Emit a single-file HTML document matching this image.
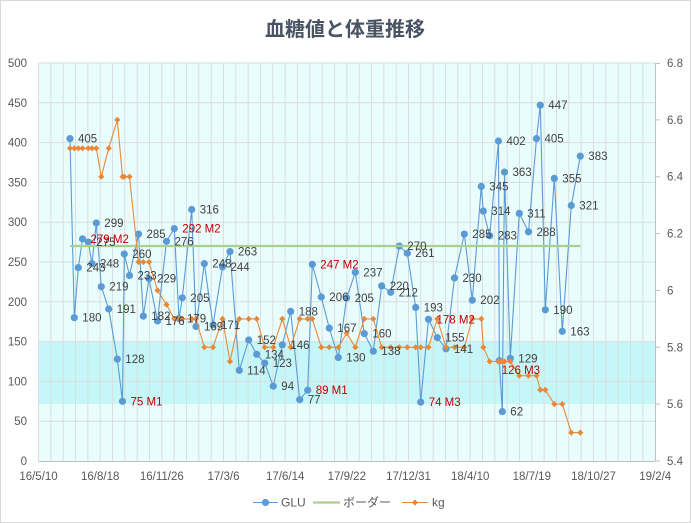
<!DOCTYPE html>
<html><head><meta charset="utf-8"><style>
html,body{margin:0;padding:0;background:#fff;}
svg{display:block;}
text{font-family:"Liberation Sans","Noto Sans CJK JP",sans-serif;}
</style></head><body>
<svg width="691" height="523" viewBox="0 0 691 523" xmlns="http://www.w3.org/2000/svg">
<defs>
<marker id="mc" markerUnits="userSpaceOnUse" markerWidth="10" markerHeight="10" refX="5" refY="5" viewBox="0 0 10 10"><circle cx="5" cy="5" r="3.6" fill="#5b9bd5"/></marker>
<marker id="md" markerUnits="userSpaceOnUse" markerWidth="10" markerHeight="10" refX="5" refY="5" viewBox="0 0 10 10"><path d="M5 1.9L8.1 5L5 8.1L1.9 5Z" fill="#e8893a"/></marker>
</defs>
<rect x="0.5" y="0.5" width="690" height="522" fill="#fff" stroke="#d9d9d9"/>
<text x="345" y="36" text-anchor="middle" font-size="20" font-weight="bold" fill="#4a5363" style="font-family:'Noto Sans CJK JP',sans-serif">血糖値と体重推移</text>
<!-- plot area -->
<rect x="38.5" y="63" width="616.5" height="398" fill="#e9fdfd"/>
<rect x="38.5" y="341.6" width="616.5" height="62.4" fill="#c6f7f8"/>
<path fill="none" stroke="#d9dede" stroke-width="1" d="M38.5 102.8H655M38.5 142.6H655M38.5 182.4H655M38.5 222.2H655M38.5 262H655M38.5 301.8H655M38.5 341.6H655M38.5 381.4H655M38.5 421.2H655M38.5 63H655
M38.5 63V461M50.83 63V461M63.17 63V461M75.5 63V461M87.83 63V461M100.17 63V461M112.5 63V461M124.83 63V461M137.17 63V461M149.5 63V461M161.83 63V461M174.17 63V461M186.5 63V461M198.83 63V461M211.17 63V461M223.5 63V461M235.83 63V461M248.17 63V461M260.5 63V461M272.83 63V461M285.17 63V461M297.5 63V461M309.83 63V461M322.17 63V461M334.5 63V461M346.83 63V461M359.17 63V461M371.5 63V461M383.83 63V461M396.17 63V461M408.5 63V461M420.83 63V461M433.17 63V461M445.5 63V461M457.83 63V461M470.17 63V461M482.5 63V461M494.83 63V461M507.17 63V461M519.5 63V461M531.83 63V461M544.17 63V461M556.5 63V461M568.83 63V461M581.17 63V461M593.5 63V461M605.83 63V461M618.17 63V461M630.5 63V461M642.83 63V461"/>
<path fill="none" stroke="#bfbfbf" stroke-width="1" d="M38.5 461.5H655M655.5 63V461.5M655.5 63.5H660M655.5 119.9H660M655.5 176.7H660M655.5 233.6H660M655.5 290.4H660M655.5 347.3H660M655.5 404.1H660M655.5 461H660"/>
<!-- GLU -->
<polyline fill="none" stroke="#5b9bd5" stroke-width="1.1" stroke-linejoin="round" marker-start="url(#mc)" marker-mid="url(#mc)" marker-end="url(#mc)" points="70,138.6 74.3,317.7 78.3,267.6 82.5,238.9 88.3,242.1 92,263.6 96.3,223 101.3,286.7 108.7,309 117.3,359.1 122.5,401.3 124.3,254 129.5,275.5 138.5,234.1 143.3,316.1 149,278.7 157.5,320.9 166.5,241.3 174.3,228.6 179,318.5 182.3,297.8 191.7,209.5 196,326.5 204.3,263.6 213,324.9 222.5,266.8 230,251.6 239.3,370.3 248.7,340 256.7,354.3 264.7,363.1 273.3,386.2 282.3,344.8 290.7,311.4 299.7,399.7 307.7,390.2 312.3,264.4 321.3,297 329.3,328.1 338.3,357.5 346.7,297.8 355.3,272.3 364.3,333.6 373.3,351.2 381.7,285.9 390.7,292.3 399.3,246.1 407.3,253.2 415.7,307.4 420.7,402.1 428.5,319.3 437.3,337.6 446,348.8 454.5,277.9 464.3,234.1 472.3,300.2 481.3,186.4 483.3,211.1 489.7,235.7 498.5,141 499.3,360.7 502.3,411.6 504.5,172.1 510.3,358.3 519.3,213.4 528.5,231.8 536.5,138.6 540.3,105.2 545.3,309.8 554.3,178.4 562.3,331.3 571.3,205.5 580.3,156.1"/>
<!-- border -->
<line x1="70" y1="246" x2="580.3" y2="246" stroke="#a9d08e" stroke-width="2.2"/>
<!-- kg -->
<polyline fill="none" stroke="#e8893a" stroke-width="1.1" stroke-linejoin="round" marker-start="url(#md)" marker-mid="url(#md)" marker-end="url(#md)" points="70,148.3 74.3,148.3 78.3,148.3 82.5,148.3 88.3,148.3 92,148.3 96.3,148.3 101.3,176.7 108.7,148.3 117.3,119.9 122.5,176.7 124.3,176.7 129.5,176.7 138.5,262 143.3,262 149,262 157.5,290.4 166.5,304.6 174.3,318.9 179,318.9 182.3,318.9 191.7,318.9 196,318.9 204.3,347.3 213,347.3 222.5,318.9 230,361.5 239.3,318.9 248.7,318.9 256.7,318.9 264.7,347.3 273.3,347.3 282.3,318.9 290.7,347.3 299.7,318.9 307.7,318.9 312.3,318.9 321.3,347.3 329.3,347.3 338.3,347.3 346.7,333.1 355.3,347.3 364.3,318.9 373.3,318.9 381.7,347.3 390.7,347.3 399.3,347.3 407.3,347.3 415.7,347.3 420.7,347.3 428.5,347.3 437.3,318.9 446,347.3 454.5,347.3 464.3,347.3 472.3,318.9 481.3,318.9 483.3,347.3 489.7,361.5 498.5,361.5 499.3,361.5 502.3,361.5 504.5,361.5 510.3,361.5 519.3,375.7 528.5,375.7 536.5,375.7 540.3,389.9 545.3,389.9 554.3,404.1 562.3,404.1 571.3,432.6 580.3,432.6"/>
<!-- data labels -->
<g font-size="11.5" fill="#404040" dy="0.35em">
<text x="78" y="138.6" dy="0.35em">405</text>
<text x="82.3" y="317.7" dy="0.35em">180</text>
<text x="86.3" y="267.6" dy="0.35em">243</text>
<text x="96.3" y="242.1" dy="0.35em">275</text>
<text x="100" y="263.6" dy="0.35em">248</text>
<text x="104.3" y="223" dy="0.35em">299</text>
<text x="109.3" y="286.7" dy="0.35em">219</text>
<text x="116.7" y="309" dy="0.35em">191</text>
<text x="125.3" y="359.1" dy="0.35em">128</text>
<text x="132.3" y="254" dy="0.35em">260</text>
<text x="137.5" y="275.5" dy="0.35em">233</text>
<text x="146.5" y="234.1" dy="0.35em">285</text>
<text x="151.3" y="316.1" dy="0.35em">182</text>
<text x="157" y="278.7" dy="0.35em">229</text>
<text x="165.5" y="320.9" dy="0.35em">176</text>
<text x="174.5" y="241.3" dy="0.35em">276</text>
<text x="187" y="318.5" dy="0.35em">179</text>
<text x="190.3" y="297.8" dy="0.35em">205</text>
<text x="199.7" y="209.5" dy="0.35em">316</text>
<text x="204" y="326.5" dy="0.35em">169</text>
<text x="212.3" y="263.6" dy="0.35em">248</text>
<text x="221" y="324.9" dy="0.35em">171</text>
<text x="230.5" y="266.8" dy="0.35em">244</text>
<text x="238" y="251.6" dy="0.35em">263</text>
<text x="247.3" y="370.3" dy="0.35em">114</text>
<text x="256.7" y="340" dy="0.35em">152</text>
<text x="264.7" y="354.3" dy="0.35em">134</text>
<text x="272.7" y="363.1" dy="0.35em">123</text>
<text x="281.3" y="386.2" dy="0.35em">94</text>
<text x="290.3" y="344.8" dy="0.35em">146</text>
<text x="298.7" y="311.4" dy="0.35em">188</text>
<text x="307.7" y="399.7" dy="0.35em">77</text>
<text x="329.3" y="297" dy="0.35em">206</text>
<text x="337.3" y="328.1" dy="0.35em">167</text>
<text x="346.3" y="357.5" dy="0.35em">130</text>
<text x="354.7" y="297.8" dy="0.35em">205</text>
<text x="363.3" y="272.3" dy="0.35em">237</text>
<text x="372.3" y="333.6" dy="0.35em">160</text>
<text x="381.3" y="351.2" dy="0.35em">138</text>
<text x="389.7" y="285.9" dy="0.35em">220</text>
<text x="398.7" y="292.3" dy="0.35em">212</text>
<text x="407.3" y="246.1" dy="0.35em">270</text>
<text x="415.3" y="253.2" dy="0.35em">261</text>
<text x="423.7" y="307.4" dy="0.35em">193</text>
<text x="445.3" y="337.6" dy="0.35em">155</text>
<text x="454" y="348.8" dy="0.35em">141</text>
<text x="462.5" y="277.9" dy="0.35em">230</text>
<text x="472.3" y="234.1" dy="0.35em">285</text>
<text x="480.3" y="300.2" dy="0.35em">202</text>
<text x="489.3" y="186.4" dy="0.35em">345</text>
<text x="491.3" y="211.1" dy="0.35em">314</text>
<text x="497.7" y="235.7" dy="0.35em">283</text>
<text x="506.5" y="141" dy="0.35em">402</text>
<text x="510.3" y="411.6" dy="0.35em">62</text>
<text x="512.5" y="172.1" dy="0.35em">363</text>
<text x="518.3" y="358.3" dy="0.35em">129</text>
<text x="527.3" y="213.4" dy="0.35em">311</text>
<text x="536.5" y="231.8" dy="0.35em">288</text>
<text x="544.5" y="138.6" dy="0.35em">405</text>
<text x="548.3" y="105.2" dy="0.35em">447</text>
<text x="553.3" y="309.8" dy="0.35em">190</text>
<text x="562.3" y="178.4" dy="0.35em">355</text>
<text x="570.3" y="331.3" dy="0.35em">163</text>
<text x="579.3" y="205.5" dy="0.35em">321</text>
<text x="588.3" y="156.1" dy="0.35em">383</text>
</g>
<g font-size="11.5" fill="#c00000">
<text x="90.5" y="238.9" dy="0.35em">279 M2</text>
<text x="130.5" y="401.3" dy="0.35em">75 M1</text>
<text x="182.3" y="228.6" dy="0.35em">292 M2</text>
<text x="315.7" y="390.2" dy="0.35em">89 M1</text>
<text x="320.3" y="264.4" dy="0.35em">247 M2</text>
<text x="428.7" y="402.1" dy="0.35em">74 M3</text>
<text x="436.5" y="319.3" dy="0.35em">178 M2</text>
<text x="501.7" y="370" dy="0.35em">126 M3</text>
</g>
<!-- left axis labels -->
<g font-size="11.5" fill="#595959" text-anchor="end">
<text x="27" y="63" dy="0.35em">500</text>
<text x="27" y="102.8" dy="0.35em">450</text>
<text x="27" y="142.6" dy="0.35em">400</text>
<text x="27" y="182.4" dy="0.35em">350</text>
<text x="27" y="222.2" dy="0.35em">300</text>
<text x="27" y="262" dy="0.35em">250</text>
<text x="27" y="301.8" dy="0.35em">200</text>
<text x="27" y="341.6" dy="0.35em">150</text>
<text x="27" y="381.4" dy="0.35em">100</text>
<text x="27" y="421.2" dy="0.35em">50</text>
<text x="27" y="461" dy="0.35em">0</text>
</g>
<!-- right axis labels -->
<g font-size="11.5" fill="#595959">
<text x="667" y="63" dy="0.35em">6.8</text>
<text x="667" y="119.9" dy="0.35em">6.6</text>
<text x="667" y="176.7" dy="0.35em">6.4</text>
<text x="667" y="233.6" dy="0.35em">6.2</text>
<text x="667" y="290.4" dy="0.35em">6</text>
<text x="667" y="347.3" dy="0.35em">5.8</text>
<text x="667" y="404.1" dy="0.35em">5.6</text>
<text x="667" y="461" dy="0.35em">5.4</text>
</g>
<!-- x axis labels -->
<g font-size="11.5" fill="#595959" text-anchor="middle">
<text x="38.5" y="476" dy="0.35em">16/5/10</text>
<text x="100.2" y="476" dy="0.35em">16/8/18</text>
<text x="161.8" y="476" dy="0.35em">16/11/26</text>
<text x="223.5" y="476" dy="0.35em">17/3/6</text>
<text x="285.2" y="476" dy="0.35em">17/6/14</text>
<text x="346.8" y="476" dy="0.35em">17/9/22</text>
<text x="408.5" y="476" dy="0.35em">17/12/31</text>
<text x="470.2" y="476" dy="0.35em">18/4/10</text>
<text x="531.8" y="476" dy="0.35em">18/7/19</text>
<text x="593.5" y="476" dy="0.35em">18/10/27</text>
<text x="655.2" y="476" dy="0.35em">19/2/4</text>
</g>
<!-- legend -->
<line x1="253" y1="502.5" x2="278" y2="502.5" stroke="#5b9bd5" stroke-width="1.1"/>
<circle cx="265.5" cy="502.5" r="3.6" fill="#5b9bd5"/>
<text x="281" y="502.5" dy="0.35em" font-size="12" fill="#595959">GLU</text>
<line x1="313" y1="502.5" x2="340" y2="502.5" stroke="#a9d08e" stroke-width="2.2"/>
<text x="343" y="502.5" dy="0.35em" font-size="12" fill="#595959" style="font-family:'Noto Sans CJK JP',sans-serif">ボーダー</text>
<line x1="402" y1="502.5" x2="428" y2="502.5" stroke="#e8893a" stroke-width="1.1"/>
<path d="M415 499.4L418.1 502.5L415 505.6L411.9 502.5Z" fill="#e8893a"/>
<text x="432" y="502.5" dy="0.35em" font-size="12" fill="#595959">kg</text>
</svg>
</body></html>
